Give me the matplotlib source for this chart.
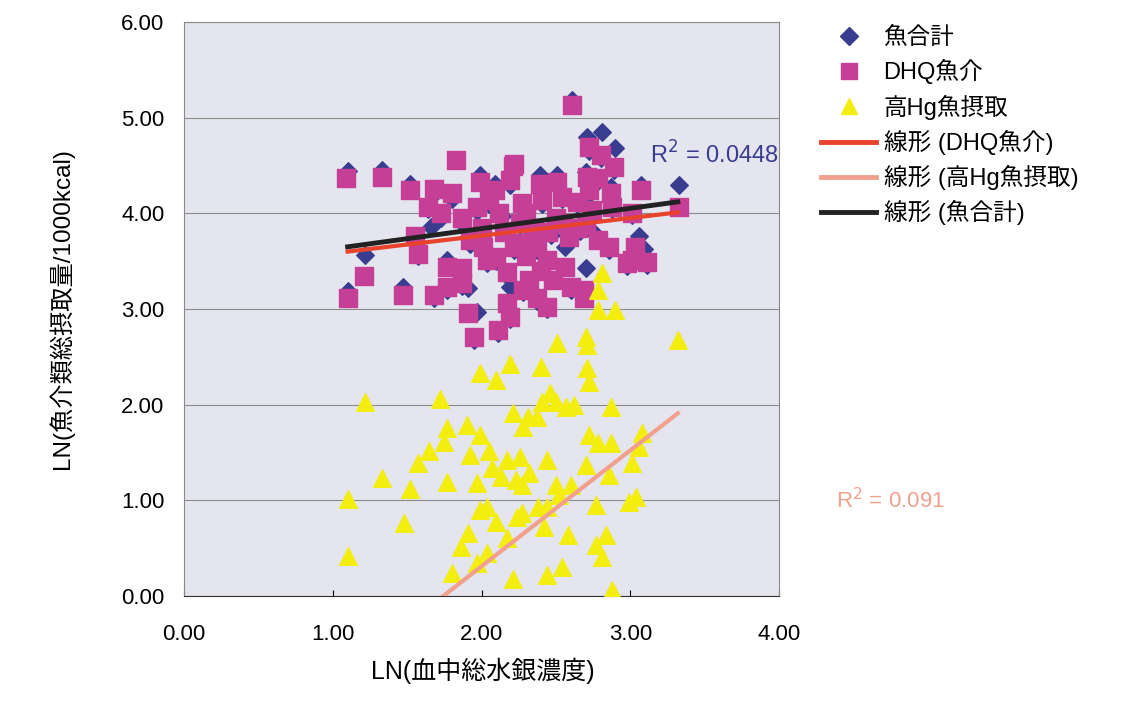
import numpy as np
import matplotlib
matplotlib.use("Agg")
import matplotlib.pyplot as plt
from matplotlib.lines import Line2D

plt.rcParams['font.family'] = ['Liberation Sans', 'Noto Sans CJK JP', 'DejaVu Sans']

# 魚合計 (diamonds)
fish_total_x = [1.10, 1.33, 1.52, 1.99, 2.09, 2.39, 2.51, 2.87, 3.07, 3.33,
                1.66, 1.22, 1.10, 1.47, 1.77, 1.91, 1.97, 2.19, 2.71, 2.81,
                2.90, 2.70, 2.61, 2.56, 2.75, 3.06, 3.09, 2.70, 1.68, 1.80,
                2.21, 2.19, 1.64, 1.73, 1.87, 1.97, 2.05, 1.55, 1.57, 1.68,
                1.87, 1.92, 2.01, 2.04, 2.10, 2.17, 1.77, 1.87, 1.95, 2.11,
                2.17, 2.22, 2.72, 2.80, 2.89, 2.78, 2.22, 2.41, 2.54, 2.64,
                2.72, 3.01, 2.88, 2.74, 2.27, 2.26, 2.26, 2.37, 2.44, 2.59,
                2.86, 3.01, 3.11, 2.98, 2.60, 2.69, 2.32, 2.28, 2.37, 2.44,
                2.19, 2.33, 2.47, 2.53, 2.66, 2.14]
fish_total_y = [4.44, 4.45, 4.31, 4.40, 4.31, 4.40, 4.40, 4.28, 4.30, 4.30,
                3.86, 3.56, 3.19, 3.23, 3.51, 3.22, 2.97, 3.23, 4.80, 4.85,
                4.68, 4.43, 5.18, 3.65, 3.80, 3.76, 3.63, 3.43, 4.20, 4.15,
                4.45, 4.30, 4.05, 3.95, 3.90, 4.02, 4.10, 3.72, 3.55, 3.12,
                3.40, 3.68, 3.60, 3.48, 3.50, 3.35, 3.20, 3.24, 2.68, 2.75,
                3.02, 3.62, 4.65, 4.58, 4.45, 4.34, 4.48, 4.10, 4.15, 4.10,
                4.20, 3.98, 4.05, 4.00, 4.08, 3.88, 3.66, 3.62, 3.48, 3.72,
                3.62, 3.48, 3.46, 3.45, 3.20, 3.17, 3.28, 3.18, 3.08, 3.00,
                2.90, 3.82, 3.77, 3.92, 3.82, 3.97]

# DHQ魚介 (squares)
dhq_x = [1.09, 1.33, 1.83, 1.52, 1.68, 1.80, 1.99, 2.09, 2.21, 2.19,
         1.64, 1.73, 1.87, 1.97, 2.05, 1.55, 1.57, 1.21, 1.10, 1.47,
         1.68, 1.77, 1.87, 1.92, 2.01, 2.04, 2.10, 2.17, 1.77, 1.87,
         1.91, 1.95, 2.11, 2.17, 2.22, 2.61, 2.72, 2.80, 2.89, 2.71,
         2.78, 2.22, 2.39, 2.51, 2.41, 2.54, 2.64, 2.72, 2.87, 3.07,
         3.33, 3.01, 2.88, 2.74, 2.27, 2.26, 2.26, 2.37, 2.44, 2.59,
         2.78, 2.86, 3.03, 3.01, 3.11, 2.98, 2.56, 2.60, 2.69, 2.69,
         2.32, 2.28, 2.37, 2.44, 2.19, 2.30, 2.35, 2.45, 2.50, 2.55,
         2.65, 2.40, 2.48, 2.30, 2.15, 2.12, 2.00, 2.70]
dhq_y = [4.37, 4.38, 4.56, 4.24, 4.25, 4.21, 4.33, 4.24, 4.50, 4.35,
         4.07, 4.00, 3.95, 4.07, 4.14, 3.76, 3.58, 3.35, 3.11, 3.15,
         3.15, 3.44, 3.43, 3.72, 3.65, 3.51, 3.54, 3.39, 3.23, 3.27,
         2.96, 2.71, 2.78, 3.06, 3.65, 5.13, 4.69, 4.61, 4.48, 4.38,
         4.37, 4.52, 4.31, 4.33, 4.14, 4.17, 4.12, 4.24, 4.21, 4.24,
         4.07, 4.00, 4.07, 4.03, 4.11, 3.90, 3.69, 3.65, 3.51, 3.75,
         3.72, 3.65, 3.65, 3.51, 3.49, 3.48, 3.44, 3.23, 3.20, 3.11,
         3.30, 3.20, 3.11, 3.02, 2.92, 4.00, 3.85, 3.80, 3.95, 3.90,
         3.85, 3.40, 3.30, 3.55, 3.80, 4.00, 3.85, 3.88]

# 高Hg魚摂取 (triangles)
high_hg_x = [1.10, 1.10, 1.22, 1.33, 1.48, 1.52, 1.57, 1.65, 1.72, 1.75,
             1.77, 1.77, 1.80, 1.86, 1.90, 1.91, 1.92, 1.97, 1.97, 1.99,
             1.99, 1.99, 2.04, 2.04, 2.05, 2.07, 2.10, 2.10, 2.13, 2.17,
             2.17, 2.19, 2.21, 2.21, 2.23, 2.24, 2.26, 2.27, 2.27, 2.28,
             2.31, 2.32, 2.37, 2.38, 2.40, 2.41, 2.42, 2.44, 2.44, 2.44,
             2.46, 2.50, 2.50, 2.51, 2.52, 2.54, 2.57, 2.58, 2.60, 2.62,
             2.70, 2.70, 2.71, 2.71, 2.72, 2.72, 2.77, 2.77, 2.78, 2.78,
             2.78, 2.81, 2.81, 2.84, 2.86, 2.87, 2.87, 2.88, 2.90, 2.99,
             3.01, 3.04, 3.06, 3.08, 3.32]
high_hg_y = [0.42, 1.01, 2.03, 1.23, 0.76, 1.12, 1.39, 1.52, 2.06, 1.61,
             1.76, 1.19, 0.24, 0.51, 1.79, 0.66, 1.47, 1.18, 0.34, 2.33,
             1.68, 0.90, 0.93, 0.45, 1.52, 1.34, 2.26, 0.77, 1.24, 1.42,
             0.61, 2.43, 1.91, 0.18, 1.21, 0.83, 1.45, 1.16, 0.87, 1.77,
             1.87, 1.29, 1.87, 0.93, 2.39, 2.03, 0.72, 1.42, 0.93, 0.22,
             2.12, 2.03, 1.16, 2.64, 1.06, 0.30, 1.98, 0.64, 1.16, 2.00,
             2.71, 1.37, 2.62, 2.38, 2.24, 1.68, 0.95, 0.53, 3.20, 2.99,
             1.60, 3.38, 0.41, 0.64, 1.26, 1.98, 1.60, 0.06, 2.99, 0.98,
             1.39, 1.04, 1.56, 1.70, 2.68]

# linear trend lines (endpoints)
trend_x = [1.10, 3.32]
trend_dhq = [3.60, 4.01]
trend_high_hg = [-0.78, 1.91]
trend_total = [3.65, 4.12]

r2_total = "R$^2$ = 0.0448"
r2_high_hg = "R$^2$ = 0.091"

navy = "#3a3d8f"
magenta = "#c63f96"
yellow = "#f3ee10"
red = "#e8432c"
pink = "#f2a08e"
black = "#222222"

fig = plt.figure(figsize=(11.22, 7.16), dpi=100)
ax = fig.add_axes([184 / 1122, 1 - 596 / 716, 595 / 1122, 574 / 716])
ax.set_facecolor("#e4e5ee")

ax.scatter(fish_total_x, fish_total_y, marker="D", s=80, color=navy, zorder=3)
ax.scatter(dhq_x, dhq_y, marker="s", s=150, color=magenta, zorder=4)
ax.scatter(high_hg_x, high_hg_y, marker="^", s=160, color=yellow, zorder=5)

ax.plot(trend_x, trend_dhq, color=red, lw=3, zorder=6)
ax.plot(trend_x, trend_high_hg, color=pink, lw=3, zorder=6)
ax.plot(trend_x, trend_total, color=black, lw=3.5, zorder=6)

ax.text(3.995, 4.61, r2_total, color=navy, fontsize=17, ha="right", va="center", zorder=7)
ax.text(4.38, 1.00, r2_high_hg, color=pink, fontsize=16, ha="left", va="center", clip_on=False)

ax.set_xlim(0, 4)
ax.set_ylim(0, 6)
ax.set_xticks([0, 1, 2, 3, 4])
ax.set_xticklabels(["0.00", "1.00", "2.00", "3.00", "4.00"])
ax.set_yticks([0, 1, 2, 3, 4, 5, 6])
ax.set_yticklabels(["0.00", "1.00", "2.00", "3.00", "4.00", "5.00", "6.00"])
ax.tick_params(axis="x", direction="in", length=4, pad=20, labelsize=16)
ax.tick_params(axis="y", length=0, pad=14, labelsize=16)
ax.yaxis.grid(True, color="#8c8c8c", lw=0.8)
ax.set_axisbelow(True)
for side in ["left", "right", "top"]:
    ax.spines[side].set_color("#8a8a8a")
ax.spines["bottom"].set_color("#333333")

fig.text(61 / 1122, 1 - 309 / 716, "LN(魚介類総摂取量/1000kcal)", rotation=90,
         ha="center", va="center", fontsize=17.5)
fig.text(483 / 1122, 1 - 671 / 716, "LN(血中総水銀濃度)", ha="center", va="center", fontsize=18)

handles = [
    Line2D([], [], ls="none", marker="D", ms=9, color=navy),
    Line2D([], [], ls="none", marker="s", ms=11, color=magenta),
    Line2D([], [], ls="none", marker="^", ms=12, color=yellow),
    Line2D([], [], color=red, lw=3.5),
    Line2D([], [], color=pink, lw=3.5),
    Line2D([], [], color=black, lw=3.5),
]
labels = ["魚合計", "DHQ魚介", "高Hg魚摂取", "線形 (DHQ魚介)", "線形 (高Hg魚摂取)", "線形 (魚合計)"]
fig.legend(handles, labels, loc="upper left", bbox_to_anchor=(821 / 1122, 1 - 27 / 716),
           frameon=False, fontsize=17, handlelength=2.35, handletextpad=0.3,
           labelspacing=0.43, borderpad=0, borderaxespad=0)

fig.savefig("out.png", dpi=100)
